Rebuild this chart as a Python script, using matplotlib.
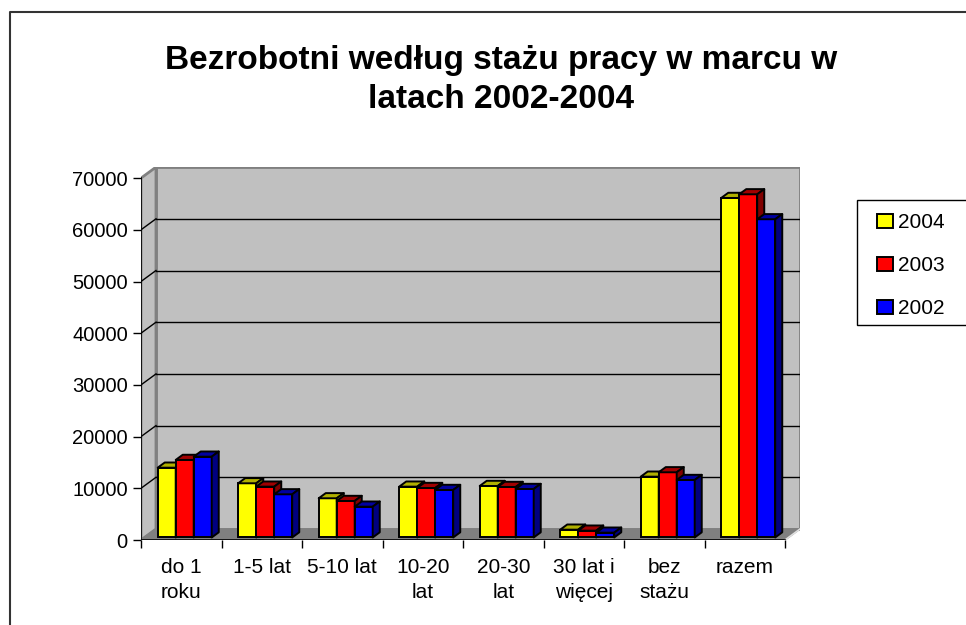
import matplotlib
matplotlib.use("Agg")
import matplotlib.pyplot as plt
from matplotlib.patches import Polygon, Rectangle
from matplotlib.lines import Line2D

plt.rcParams['font.family'] = ['Liberation Sans', 'DejaVu Sans']

categories = ["do 1\nroku", "1-5 lat", "5-10 lat", "10-20\nlat", "20-30\nlat",
              "30 lat i\nwięcej", "bez\nstażu", "razem"]
series_names = ["2004", "2003", "2002"]
v2004 = [13500, 10480, 7580, 9830, 9960, 1510, 11760, 65670]
v2003 = [15000, 9830, 7060, 9570, 9770, 1320, 12610, 66380]
v2002 = [15630, 8350, 5960, 9190, 9380, 930, 11120, 61550]
series = [v2004, v2003, v2002]
yticks = [0, 10000, 20000, 30000, 40000, 50000, 60000, 70000]

front_colors = ["#FFFF00", "#FF0000", "#0000FF"]
top_colors = ["#B0B000", "#A00000", "#0000A0"]
side_colors = ["#808000", "#800000", "#000080"]

W, H = 966, 625
fig = plt.figure(figsize=(W / 100, H / 100), dpi=100)

# axes geometry in pixels
ax_l, ax_r, ax_b, ax_t = 141, 800, 540, 167
ax = fig.add_axes([ax_l / W, (H - ax_b) / H, (ax_r - ax_l) / W, (ax_b - ax_t) / H])
px_x = 80.5            # px per category
px_y = 51.7 / 10000    # px per unit
ddx = 15 / px_x
ddy = 11 / px_y
ncat = len(categories)
ymax = 70000
ax.set_xlim(0, (ax_r - ax_l) / px_x)
ax.set_ylim(0, (ax_b - ax_t) / px_y)
for s in ax.spines.values():
    s.set_visible(False)
ax.set_facecolor("none")

# walls and floor
ax.add_patch(Rectangle((ddx, ddy), ncat, ymax, facecolor="#C0C0C0",
                       edgecolor="#808080", lw=2, zorder=0))
ax.add_patch(Polygon([(0, 0), (0, ymax), (ddx, ymax + ddy), (ddx, ddy)],
                     closed=True, facecolor="#C0C0C0", edgecolor="#808080", lw=2, zorder=0.1))
ax.add_patch(Polygon([(0, 0), (ncat, 0), (ncat + ddx, ddy), (ddx, ddy)],
                     closed=True, facecolor="#808080", edgecolor="#808080", lw=1, zorder=0.5))
ax.plot([ncat, ncat + ddx], [0, ddy], color="#E0E0E0", lw=1.2, zorder=0.55)
for v in yticks[1:-1]:
    ax.plot([ddx, ncat + ddx], [v + ddy, v + ddy], color="black", lw=1, zorder=0.3)
    ax.plot([0, ddx], [v, v + ddy], color="black", lw=1, zorder=0.3)
# front axis lines
ax.plot([0, 0], [0, ymax], color="black", lw=1.2, zorder=0.6)
ax.plot([0, ncat], [0, 0], color="black", lw=1.2, zorder=0.6)

# bars
w = 18 / px_x
g = (1 - 3 * w) / 2
f0 = 0.23
df = 0.47
lw = 1.4
handles = []
for i in range(ncat):
    for j, vals in enumerate(series):
        v = vals[i]
        x0 = i + g + j * w + f0 * ddx
        yb = f0 * ddy
        yt = v + yb
        z = 2 + i * 10 + j
        bc = ax.bar(x0, v, width=w, bottom=yb, align="edge", color=front_colors[j],
                    edgecolor="black", linewidth=lw, zorder=z)
        if i == 0:
            handles.append(bc[0])
        ax.add_patch(Polygon([(x0, yt), (x0 + w, yt), (x0 + w + df * ddx, yt + df * ddy),
                              (x0 + df * ddx, yt + df * ddy)], closed=True,
                             facecolor=top_colors[j], edgecolor="black", lw=lw, zorder=z,
                             joinstyle="round"))
        ax.add_patch(Polygon([(x0 + w, yb), (x0 + w, yt), (x0 + w + df * ddx, yt + df * ddy),
                              (x0 + w + df * ddx, yb + df * ddy)], closed=True,
                             facecolor=side_colors[j], edgecolor="black", lw=lw, zorder=z,
                             joinstyle="round"))

# ticks
ax.set_yticks(yticks)
ax.set_yticklabels([str(t) for t in yticks])
ax.tick_params(axis="y", length=6, width=1, pad=3.5, labelsize=14.5, direction="out")
ax.set_xticks(range(ncat + 1))
ax.set_xticklabels([""] * (ncat + 1))
ax.set_xticks([i + 0.5 for i in range(ncat)], minor=True)
ax.set_xticklabels(categories, minor=True)
ax.tick_params(axis="x", which="major", length=6, width=1, direction="out")
ax.tick_params(axis="x", which="minor", length=0, pad=13, labelsize=15)
for t in ax.get_xticklabels(minor=True):
    t.set_linespacing(1.4)
    t.set_verticalalignment("top")

# legend (frame drawn separately, extends past the right edge)
fig.add_artist(Rectangle((857 / W, 1 - 325 / H), 130 / W, 125 / H, transform=fig.transFigure,
                         facecolor="white", edgecolor="black", lw=1, zorder=3))
leg = fig.legend(handles, series_names, loc="upper left",
                 bbox_to_anchor=(871 / W, 1 - 207 / H),
                 fontsize=15, frameon=False,
                 handlelength=0.75, handleheight=0.7, handletextpad=0.25,
                 labelspacing=1.15, borderpad=0.3, borderaxespad=0)
leg.set_zorder(4)

# title
fig.text(501 / W, 1 - 80 / H, "Bezrobotni według stażu pracy w marcu w\nlatach 2002-2004",
         ha="center", va="center", fontsize=24, fontweight="bold", linespacing=1.35)

# outer frame
fig.add_artist(Line2D([10 / W, 10 / W, 1], [0, 1 - 12 / H, 1 - 12 / H],
                      transform=fig.transFigure, color="#333333", lw=1.5))

fig.savefig("out.png", dpi=100)
